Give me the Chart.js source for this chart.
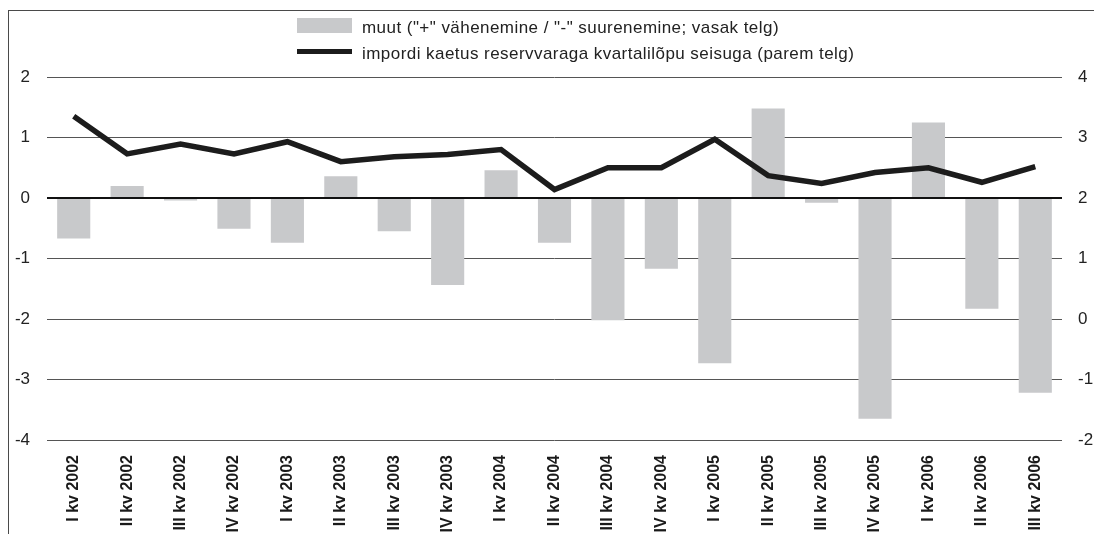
<!DOCTYPE html>
<html lang="et">

<head>
    <meta charset="utf-8" />
    <title>Muut ja impordi kaetus reservvaraga</title>
    <script src="https://cdn.jsdelivr.net/npm/chart.js@4.4.1/dist/chart.umd.min.js"></script>
    <style>
        html, body {
            margin: 0;
            padding: 0;
            background: #fff;
        }

        #wrap {
            position: relative;
            width: 1094px;
            height: 534px;
            overflow: hidden;
        }

        /* raam: ainult ülemine ja vasak joon */
        #wrap::before {
            content: '';
            position: absolute;
            left: 8px;
            top: 10px;
            right: -2px;
            bottom: -2px;
            border-top: 1px solid #4a4a4a;
            border-left: 1px solid #4a4a4a;
        }

        #chart {
            position: absolute;
            left: 0;
            top: 0;
        }

        #legend {
            position: absolute;
            left: 297px;
            top: 0;
            font-family: 'Liberation Sans', Arial, sans-serif;
            font-size: 17px;
            letter-spacing: 0.45px;
            color: #222;
        }

        .lg-row {
            position: absolute;
            left: 0;
            height: 26px;
            width: 600px;
        }

        .lg-swatch {
            position: absolute;
            left: 0;
            width: 55px;
        }

        .lg-text {
            position: absolute;
            left: 65px;
            top: 0;
            line-height: 26px;
            white-space: nowrap;
        }
    </style>
</head>

<body>
    <div id="wrap">
        <canvas id="chart" width="1094" height="534"></canvas>
        <div id="legend"></div>
    </div>
</body>

<script>
    const categories = [
        'I kv 2002', 'II kv 2002', 'III kv 2002', 'IV kv 2002',
        'I kv 2003', 'II kv 2003', 'III kv 2003', 'IV kv 2003',
        'I kv 2004', 'II kv 2004', 'III kv 2004', 'IV kv 2004',
        'I kv 2005', 'II kv 2005', 'III kv 2005', 'IV kv 2005',
        'I kv 2006', 'II kv 2006', 'III kv 2006'
    ];

    // vasak telg
    const muut = [
        -0.67, 0.20, -0.04, -0.51,
        -0.74, 0.36, -0.55, -1.44,
        0.46, -0.74, -2.02, -1.17,
        -2.73, 1.48, -0.08, -3.65,
        1.25, -1.83, -3.22
    ];

    // parem telg
    const kaetus = [
        3.35, 2.73, 2.89, 2.73,
        2.93, 2.60, 2.68, 2.72,
        2.80, 2.14, 2.50, 2.50,
        2.97, 2.37, 2.24, 2.42,
        2.50, 2.26, 2.52
    ];

    const leftTicks = { min: -4, max: 2, step: 1 };
    const rightTicks = { min: -2, max: 4, step: 1 };

    const seriesNames = [
        'muut ("+" vähenemine / "-" suurenemine; vasak telg)',
        'impordi kaetus reservvaraga kvartalilõpu seisuga (parem telg)'
    ];

    const barColor = '#c8c9cb';
    const lineColor = '#1c1c1c';
    const tickFont = { family: "'Liberation Sans', Arial, sans-serif", size: 17 };

    const _ctx = document.getElementById('chart').getContext('2d');
    const _chart = new Chart(_ctx, {
        data: {
            labels: categories,
            datasets: [
                {
                    type: 'line',
                    label: seriesNames[1],
                    data: kaetus,
                    yAxisID: 'y1',
                    borderColor: lineColor,
                    backgroundColor: lineColor,
                    borderWidth: 5.5,
                    pointRadius: 0,
                    tension: 0,
                    order: 0
                },
                {
                    type: 'bar',
                    label: seriesNames[0],
                    data: muut,
                    yAxisID: 'y',
                    backgroundColor: barColor,
                    borderWidth: 0,
                    barPercentage: 0.62,
                    categoryPercentage: 1,
                    order: 1
                }
            ]
        },
        options: {
            responsive: false,
            animation: false,
            layout: {
                padding: { top: 77, left: 0, right: 0, bottom: 0 }
            },
            plugins: {
                legend: { display: false },
                tooltip: { enabled: false }
            },
            scales: {
                x: {
                    grid: { display: false },
                    border: { display: false },
                    ticks: {
                        autoSkip: false,
                        minRotation: 90,
                        maxRotation: 90,
                        padding: 7,
                        color: '#1a1a1a',
                        font: { family: "'Liberation Sans', Arial, sans-serif", size: 16, weight: 'bold' }
                    },
                    afterFit: scale => { scale.height = 94; }
                },
                y: {
                    position: 'left',
                    min: leftTicks.min,
                    max: leftTicks.max,
                    border: { display: false },
                    grid: {
                        drawTicks: false,
                        color: c => c.tick && c.tick.value === 0 ? '#111' : '#555',
                        lineWidth: c => c.tick && c.tick.value === 0 ? 2 : 1
                    },
                    ticks: {
                        stepSize: leftTicks.step,
                        padding: 17,
                        color: '#222',
                        font: tickFont
                    },
                    afterFit: scale => { scale.width = 47; }
                },
                y1: {
                    position: 'right',
                    min: rightTicks.min,
                    max: rightTicks.max,
                    border: { display: false },
                    grid: { display: false, drawTicks: false },
                    ticks: {
                        stepSize: rightTicks.step,
                        padding: 16,
                        color: '#222',
                        font: tickFont
                    },
                    afterFit: scale => { scale.width = 32; }
                }
            }
        }
    });

    // legend HTML-is, kahes reas nagu originaalis
    const _legend = document.getElementById('legend');
    const _legendOrder = [1, 0];
    _legendOrder.forEach((dsIndex, i) => {
        const ds = _chart.data.datasets[dsIndex];
        const row = document.createElement('div');
        row.className = 'lg-row';
        row.style.top = (15 + i * 26) + 'px';

        const sw = document.createElement('div');
        sw.className = 'lg-swatch';
        if (ds.type === 'bar') {
            sw.style.top = '3px';
            sw.style.height = '15px';
            sw.style.background = ds.backgroundColor;
        } else {
            sw.style.top = '8px';
            sw.style.height = '5px';
            sw.style.background = ds.borderColor;
        }

        const txt = document.createElement('div');
        txt.className = 'lg-text';
        txt.textContent = ds.label;

        row.appendChild(sw);
        row.appendChild(txt);
        _legend.appendChild(row);
    });
</script>

</html>
